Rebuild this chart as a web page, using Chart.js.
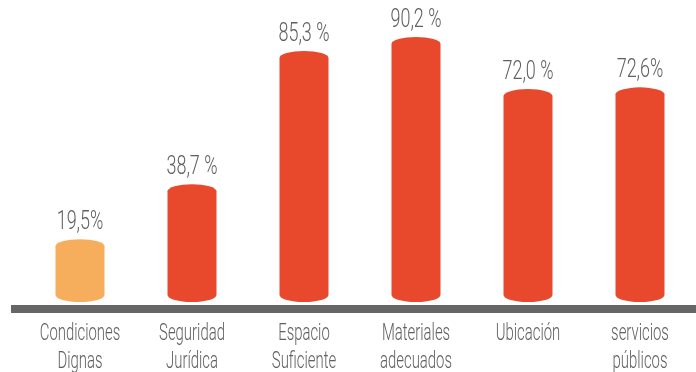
<!DOCTYPE html>
<html>
<head>
<meta charset="utf-8">
<script src="https://cdn.jsdelivr.net/npm/chart.js@4/dist/chart.umd.min.js"></script>
<style>
  html, body { margin: 0; padding: 0; background: #fff; }
  #wrap { width: 696px; height: 372px; position: relative; }
</style>
</head>
<body>
<div id="wrap"><canvas id="grafico"></canvas></div>
<script>
// categorias (una linea por elemento)
const categorias = [
  ['Condiciones', 'Dignas'],
  ['Seguridad', 'Jurídica'],
  ['Espacio', 'Suficiente'],
  ['Materiales', 'adecuados'],
  ['Ubicación'],
  ['servicios', 'públicos']
];
const porcentajes = [19.5, 38.7, 85.3, 90.2, 72.0, 72.6];
// si la etiqueta lleva espacio antes del %
const espacioPct = [false, true, true, true, true, false];
const colores = ['#F6AE5C', '#E8482C', '#E8482C', '#E8482C', '#E8482C', '#E8482C'];

const fuente = "Roboto, 'Liberation Sans', sans-serif";
const gris = '#606060';

function textoPct(i) {
  return porcentajes[i].toFixed(1).replace('.', ',') + (espacioPct[i] ? ' %' : '%');
}

// texto angosto: se comprime en horizontal
function textoAngosto(ctx, txt, x, y, escala) {
  ctx.save();
  ctx.translate(x, y);
  ctx.scale(escala, 1);
  ctx.fillText(txt, 0, 0);
  ctx.restore();
}

// dibuja cada barra como cilindro, su etiqueta y las categorias
const cilindros = {
  id: 'cilindros',
  afterDatasetsDraw(chart) {
    const ctx = chart.ctx;
    const meta = chart.getDatasetMeta(0);
    const y0 = chart.scales.y.getPixelForValue(0);
    ctx.save();
    ctx.textAlign = 'center';
    ctx.textBaseline = 'alphabetic';
    meta.data.forEach((bar, i) => {
      const p = bar.getProps(['x', 'y', 'base', 'width'], true);
      const rx = p.width / 2, ry = 7;
      ctx.fillStyle = colores[i];
      ctx.beginPath();
      ctx.ellipse(p.x, p.y + ry, rx, ry, 0, Math.PI, 2 * Math.PI);
      ctx.lineTo(p.x + rx, p.base);
      ctx.ellipse(p.x, p.base, rx, ry, 0, 0, Math.PI);
      ctx.closePath();
      ctx.fill();

      ctx.fillStyle = gris;
      ctx.font = '300 25px ' + fuente;
      textoAngosto(ctx, textoPct(i), p.x, p.y - 10, 0.72);

      ctx.font = '300 24px ' + fuente;
      categorias[i].forEach((linea, k) => {
        textoAngosto(ctx, linea, p.x, y0 + 45 + k * 28, 0.62);
      });
    });
    // linea base gris
    ctx.fillStyle = '#666666';
    ctx.fillRect(11, y0 + 10, chart.width - 11, 8);
    ctx.restore();
  }
};

new Chart(document.getElementById('grafico'), {
  type: 'bar',
  data: {
    labels: categorias,
    datasets: [{
      data: porcentajes,
      backgroundColor: 'rgba(0,0,0,0)',
      categoryPercentage: 1,
      barPercentage: 0.4375
    }]
  },
  options: {
    responsive: true,
    maintainAspectRatio: false,
    animation: false,
    layout: { padding: { top: 9, left: 24, right: 0, bottom: 77 } },
    plugins: {
      legend: { display: false },
      tooltip: { enabled: false }
    },
    scales: {
      y: { display: false, min: 0, max: 100 },
      x: { display: false }
    }
  },
  plugins: [cilindros]
});
</script>
</body>
</html>
